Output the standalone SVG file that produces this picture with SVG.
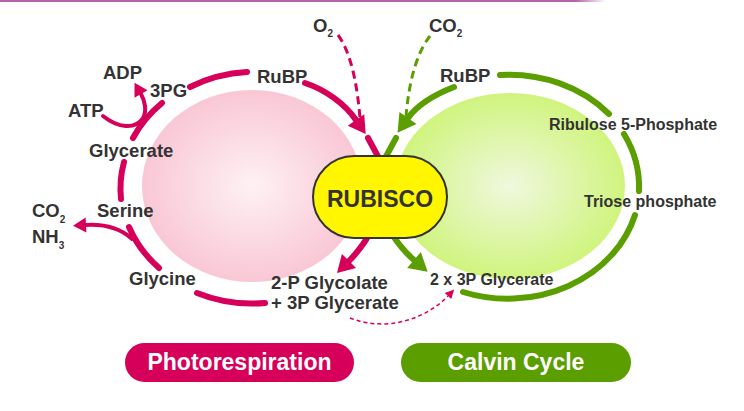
<svg xmlns="http://www.w3.org/2000/svg" width="744" height="411" viewBox="0 0 744 411">
<defs>
<style>
.lbl{font-family:"Liberation Sans",Arial,Helvetica,sans-serif;font-weight:bold;fill:#333333;font-size:18.5px}
.sm{font-size:16px}
.sub{font-size:10px}
.pk{fill:none;stroke:#d6005a;stroke-width:6;stroke-linecap:round}
.gr{fill:none;stroke:#5b9e00;stroke-width:6;stroke-linecap:round}
.pkthin{fill:none;stroke:#d6005a;stroke-width:4;stroke-linecap:round}
.pkdash{fill:none;stroke:#d6005a;stroke-width:3;stroke-dasharray:8 5}
.grdash{fill:none;stroke:#5b9e00;stroke-width:3;stroke-dasharray:8 5}
.pkdot{fill:none;stroke:#d6005a;stroke-width:1.5;stroke-dasharray:4 3}
.pill{font-family:"Liberation Sans",Arial,Helvetica,sans-serif;font-weight:bold;fill:#ffffff;font-size:23px;text-anchor:middle}
</style>
<radialGradient id="gPink" cx="0.5" cy="0.5" r="0.5">
<stop offset="0" stop-color="#fef1f4"/>
<stop offset="1" stop-color="#f9c7d5"/>
</radialGradient>
<radialGradient id="gGreen" cx="0.5" cy="0.5" r="0.5">
<stop offset="0" stop-color="#eff8de"/>
<stop offset="1" stop-color="#d0f47e"/>
</radialGradient>
<linearGradient id="gTop" x1="0" y1="0" x2="1" y2="0">
<stop offset="0" stop-color="#b463ad"/>
<stop offset="0.95" stop-color="#b463ad"/>
<stop offset="1" stop-color="#b463ad" stop-opacity="0"/>
</linearGradient>
<marker id="ahPink" markerUnits="userSpaceOnUse" orient="auto" refX="0" refY="0" overflow="visible"><path d="M0,-10 L17,0 L0,10 z" fill="#d6005a"/></marker>
<marker id="ahGreen" markerUnits="userSpaceOnUse" orient="auto" refX="0" refY="0" overflow="visible"><path d="M0,-10.5 L18,0 L0,10.5 z" fill="#5b9e00"/></marker>
<marker id="ahPinkSm" markerUnits="userSpaceOnUse" orient="auto" refX="0" refY="0" overflow="visible"><path d="M0,-7.5 L13,0 L0,7.5 z" fill="#d6005a"/></marker>
<marker id="ahPinkTiny" markerUnits="userSpaceOnUse" orient="auto" refX="0" refY="0" overflow="visible"><path d="M0,-4.5 L9,0 L0,4.5 z" fill="#d6005a"/></marker>
</defs>

<rect x="0" y="0" width="606" height="2" fill="url(#gTop)"/>

<g id="photorespiration-bg"><ellipse cx="252" cy="186" rx="110" ry="96" fill="url(#gPink)"/></g>
<g id="calvin-bg"><ellipse cx="510" cy="186" rx="115" ry="93" fill="url(#gGreen)"/></g>

<g id="connectors">
<path class="pk" d="M190,87 A132,116 0 0 1 247,72"/>
<path class="pk" d="M305,83 C326,90 345,104 356,120" marker-end="url(#ahPink)"/>
<path class="pk" d="M368,138 L381,162"/>
<path class="pk" d="M373,228 Q362,248 349,261" marker-end="url(#ahPink)"/>
<path class="pk" d="M265,303 A132,116 0 0 1 197,293"/>
<path class="pk" d="M159,268 A132,116 0 0 1 129,227"/>
<path class="pkthin" d="M132,239 C120,228 105,224 86,225" marker-end="url(#ahPinkSm)"/>
<path class="pk" d="M121,199 A132,116 0 0 1 124,162"/>
<path class="pk" d="M133,138 A132,116 0 0 1 162,103"/>
<path class="pkthin" d="M103,116 C118,128 135,130 143,118 C147,111 145,101 141,94" marker-end="url(#ahPinkSm)"/>
<path class="pkdash" d="M338,35 Q355,58 360,118"/>
<path class="pkdot" d="M350,318 C385,332 425,320 448,296" marker-end="url(#ahPinkTiny)"/>
<path class="gr" d="M454,87 C436,94 418,104 408,118" marker-end="url(#ahGreen)"/>
<path class="gr" d="M396,138 L383,162"/>
<path class="gr" d="M388,228 Q400,248 414,260" marker-end="url(#ahGreen)"/>
<path class="gr" d="M500,75 A132,114 0 0 1 609,114"/>
<path class="gr" d="M624,134 A132,114 0 0 1 639,191"/>
<path class="gr" d="M635,215 A132,114 0 0 1 463,292"/>
<path class="grdash" d="M430,36 Q411,60 406,116"/>
</g>

<g id="rubisco">
<rect x="313" y="156" width="134" height="82" rx="41" ry="41" fill="#fff600" stroke="#333333" stroke-width="2"/>
<text x="380" y="207" text-anchor="middle" style="font-family:'Liberation Sans',Arial,sans-serif;font-weight:bold;font-size:23px;fill:#333333">RUBISCO</text>
</g>

<g id="o2"><text class="lbl" x="313" y="32">O<tspan class="sub" dy="5">2</tspan></text></g>
<g id="co2-in"><text class="lbl" x="429" y="32">CO<tspan class="sub" dy="5">2</tspan></text></g>
<g id="rubp-pink"><text class="lbl" x="257" y="83">RuBP</text></g>
<g id="rubp-green"><text class="lbl" x="440" y="82">RuBP</text></g>
<g id="adp"><text class="lbl" x="103" y="79">ADP</text></g>
<g id="pg3"><text class="lbl" x="150" y="97">3PG</text></g>
<g id="atp"><text class="lbl" x="68" y="117">ATP</text></g>
<g id="glycerate"><text class="lbl" x="89" y="157">Glycerate</text></g>
<g id="serine"><text class="lbl" x="97" y="217">Serine</text></g>
<g id="co2-nh3">
<text class="lbl" x="32" y="217">CO<tspan class="sub" dy="6">2</tspan></text>
<text class="lbl" x="32" y="243">NH<tspan class="sub" dy="6">3</tspan></text>
</g>
<g id="glycine"><text class="lbl" x="129" y="285">Glycine</text></g>
<g id="glycolate">
<text class="lbl" x="271" y="289">2-P Glycolate</text>
<text class="lbl" x="271" y="309">+ 3P Glycerate</text>
</g>
<g id="ribulose"><text class="lbl sm" x="549" y="130">Ribulose 5-Phosphate</text></g>
<g id="triose"><text class="lbl sm" x="584" y="207">Triose phosphate</text></g>
<g id="glycerate3p"><text class="lbl sm" x="430" y="285">2 x 3P Glycerate</text></g>

<g id="photorespiration-pill">
<rect x="125" y="343" width="229" height="39" rx="19.5" fill="#d6005a"/>
<text class="pill" x="239.5" y="370">Photorespiration</text>
</g>
<g id="calvin-pill">
<rect x="401" y="343" width="230" height="39" rx="19.5" fill="#5b9e00"/>
<text class="pill" x="516" y="370">Calvin Cycle</text>
</g>
</svg>
